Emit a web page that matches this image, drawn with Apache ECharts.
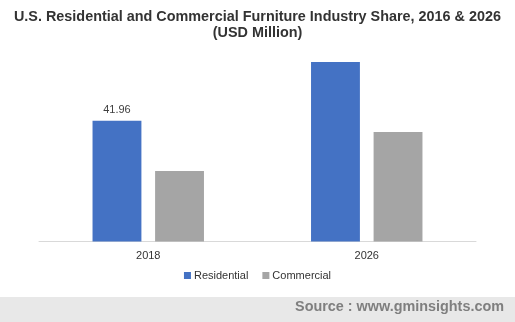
<!DOCTYPE html>
<html><head><meta charset="utf-8">
<script src="https://cdn.jsdelivr.net/npm/echarts@6/dist/echarts.min.js"></script>
<style>html,body{margin:0;padding:0;background:#fff}#c{width:515px;height:322px}</style>
</head><body><div id="c"></div>
<script>
const categories = ['2018', '2026'];
const residential = [41.96, 62.35];
const commercial = [24.49, 38.03];
const labelShown = [true, false];

const chart = echarts.init(document.getElementById('c'));
chart.setOption({
  animation: false,
  backgroundColor: '#fff',
  title: {
    text: 'U.S. Residential and Commercial Furniture Industry Share, 2016 & 2026\n(USD Million)',
    left: 'center', top: 4,
    textStyle: { fontFamily: 'Liberation Sans', fontSize: 14.4, fontWeight: 'bold', color: '#333', lineHeight: 16 }
  },
  legend: {
    bottom: 36, left: 'center',
    itemWidth: 7, itemHeight: 7, itemGap: 14,
    icon: 'rect',
    textStyle: { fontFamily: 'Liberation Sans', fontSize: 11, color: '#333', padding: [0,0,0,-2] },
    data: ['Residential', 'Commercial']
  },
  grid: { left: 39, right: 39, top: 50, bottom: 80.5 },
  xAxis: {
    type: 'category', data: categories,
    axisLine: { lineStyle: { color: '#d9d9d9', width: 1 } },
    axisTick: { show: false },
    axisLabel: { fontFamily: 'Liberation Sans', fontSize: 11, color: '#333', margin: 9 }
  },
  yAxis: { type: 'value', min: 0, max: 66.5, show: false, splitLine: { show: false } },
  series: [
    { name: 'Residential', type: 'bar', data: residential.map((v, i) => ({ value: v, label: { show: labelShown[i] } })),
      itemStyle: { color: '#4472C4' }, barGap: '28%', barCategoryGap: '49%',
      label: { position: 'top', fontFamily: 'Liberation Sans', fontSize: 11, color: '#404040', distance: 5 } },
    { name: 'Commercial', type: 'bar', data: commercial,
      itemStyle: { color: '#A5A5A5' } }
  ],
  graphic: [
    { type: 'rect', shape: { x: 0, y: 297, width: 515, height: 25 }, style: { fill: '#e8e8e8' }, silent: true },
    { type: 'text', right: 11, top: 300, style: { text: 'Source : www.gminsights.com', font: 'bold 14.4px "Liberation Sans"', fill: '#7f7f7f' } }
  ]
});
</script></body></html>
